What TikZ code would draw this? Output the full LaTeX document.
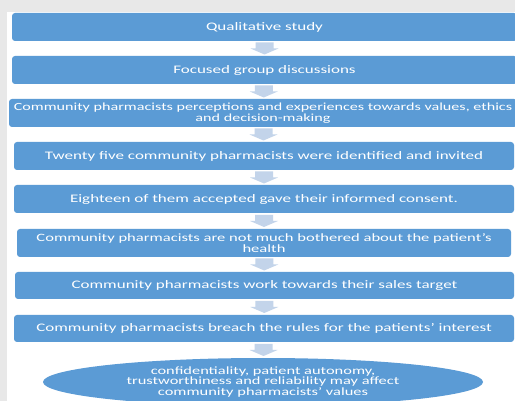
\documentclass[tikz,border=0pt]{standalone}
\usepackage{fontspec}
\setmainfont{Carlito}[FakeStretch=1.48]
\usetikzlibrary{shapes.geometric,calc}

\definecolor{boxblue}{HTML}{5B9BD5}
\definecolor{arrowblue}{HTML}{C3D4EA}
\definecolor{pagegray}{HTML}{E8E8E8}

\begin{document}
\begin{tikzpicture}[x=1pt, y=-1pt,
    stage/.style={rectangle, rounded corners=3pt, fill=boxblue, text=white,
        inner sep=0pt, minimum height=28pt, align=center,
        font=\fontsize{11.5}{11.5}\selectfont},
    outcome/.style={ellipse, fill=boxblue, text=white, inner sep=0pt,
        minimum width=440pt, minimum height=48pt, align=center,
        font=\fontsize{11.1}{10.5}\selectfont}]

    % Page background
    \fill[pagegray] (0,0) rectangle (515,401);
    \fill[white] (7,12) rectangle (515,401);
    \useasboundingbox (0,0) rectangle (515,401);

    % Study stages
    \node[stage, minimum width=505pt] (qual) at (264.5,27) {Qualitative study};
    \node[stage, minimum width=505pt] (fgd) at (264.5,70) {Focused group discussions};
    \node[stage, minimum width=508pt, font=\fontsize{10.9}{11.5}\selectfont] (views) at (263,113)
        {Community pharmacists perceptions and experiences towards values, ethics\\and decision-making};
    \node[stage, minimum width=500pt] (invited) at (264,156)
        {Twenty five community pharmacists were identified and invited};
    \node[stage, minimum width=500pt] (consent) at (264,199)
        {Eighteen of them accepted gave their informed consent.};
    \node[stage, minimum width=494pt, font=\fontsize{11.2}{11.5}\selectfont] (health) at (264,243)
        {Community pharmacists are not much bothered about the patient’s\\health};
    \node[stage, minimum width=499pt, minimum height=27pt] (sales) at (264.5,285.5)
        {Community pharmacists work towards their sales target};
    \node[stage, minimum width=500pt, minimum height=27pt] (breach) at (264,328.5)
        {Community pharmacists breach the rules for the patients’ interest};

    % Outcome
    \node[outcome] (values) at (263,382)
        {confidentiality, patient autonomy,\\trustworthiness and reliability may affect\\community pharmacists’ values};

    % Block arrows between the stages
    \foreach \a/\b in {qual/fgd, fgd/views, views/invited, invited/consent,
                       consent/health, health/sales, sales/breach, breach/values}{
        \coordinate (to-\b) at ($(\a.south)!0.5!(\b.north)$);
        \fill[arrowblue] ($(to-\b)+(-9,-6)$) -- ($(to-\b)+(9,-6)$) -- ($(to-\b)+(9,0)$)
            -- ($(to-\b)+(14,0)$) -- ($(to-\b)+(0,6)$) -- ($(to-\b)+(-14,0)$)
            -- ($(to-\b)+(-9,0)$) -- cycle;
    }
\end{tikzpicture}
\end{document}
